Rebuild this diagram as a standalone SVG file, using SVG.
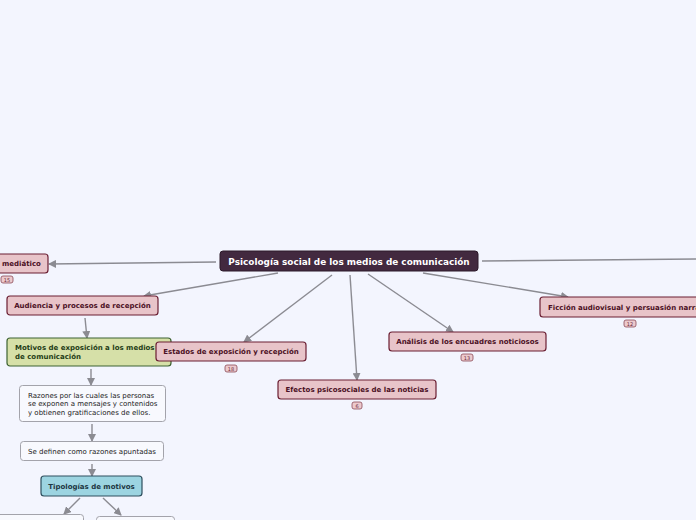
<svg xmlns="http://www.w3.org/2000/svg" width="696" height="520" viewBox="0 0 696 520">
<defs>
<marker id="ah" markerWidth="8" markerHeight="8" refX="7" refY="4" orient="auto" markerUnits="userSpaceOnUse">
<path d="M0,0 L8,4 L0,8 Z" fill="#8b8b92"/>
</marker>
<style>
.bg{fill:#f3f5fe}
.c{stroke:#8b8b92;stroke-width:1.4;fill:none}
.ca{stroke:#8b8b92;stroke-width:1.4;fill:none;marker-end:url(#ah)}
.pk{fill:#e8c4c9;stroke:#6b1f33;stroke-width:1.2}
.pt{font-family:"DejaVu Sans",Verdana,sans-serif;font-weight:bold;font-size:7px;fill:#4b1024}
.ctr{fill:#42293f;stroke:#2c1a2a;stroke-width:1}
.ct{font-family:"DejaVu Sans",Verdana,sans-serif;font-weight:bold;font-size:8.9px;fill:#ffffff}
.bd{fill:#ecc9cd;stroke:#8a4a57;stroke-width:0.8}
.bt{font-family:"DejaVu Sans",Verdana,sans-serif;font-size:5px;fill:#6b2a3a}
.gr{fill:#d6e0a8;stroke:#3d6232;stroke-width:1.2}
.gt{font-family:"DejaVu Sans",Verdana,sans-serif;font-weight:bold;font-size:7px;fill:#1f3d17}
.wh{fill:#f8f9fe;stroke:#a3a3ab;stroke-width:1}
.wt{font-family:"DejaVu Sans",Verdana,sans-serif;font-size:7px;fill:#222222}
.bl{fill:#9cd4e1;stroke:#2e4f5e;stroke-width:1.2}
.blt{font-family:"DejaVu Sans",Verdana,sans-serif;font-weight:bold;font-size:7px;fill:#1d3642}
</style>
</defs>
<rect class="bg" x="0" y="0" width="696" height="520"/>

<g id="connectors">
<line class="ca" x1="216" y1="262" x2="49" y2="264"/>
<line class="c" x1="482" y1="261" x2="696" y2="259"/>
<line class="ca" x1="278" y1="273" x2="144" y2="296"/>
<line class="ca" x1="332" y1="275" x2="244" y2="342"/>
<line class="ca" x1="350" y1="275" x2="357" y2="380"/>
<line class="ca" x1="368" y1="274" x2="453" y2="332"/>
<line class="ca" x1="423" y1="273" x2="568" y2="297"/>
<line class="ca" x1="85" y1="318" x2="87" y2="338"/>
<line class="ca" x1="91" y1="369" x2="91" y2="385"/>
<line class="ca" x1="92" y1="424" x2="92" y2="441"/>
<line class="ca" x1="92" y1="464" x2="92" y2="476"/>
<line class="ca" x1="80" y1="498" x2="64" y2="514"/>
<line class="ca" x1="103" y1="498" x2="121" y2="515"/>
</g>

<g id="central">
<rect class="ctr" x="220" y="251" width="258" height="20" rx="3"/>
<text class="ct" x="349" y="264.5" text-anchor="middle">Psicología social de los medios de comunicación</text>
</g>

<g id="n-mediatico">
<rect class="pk" x="-40" y="254" width="88" height="19" rx="3"/>
<text class="pt" x="2" y="266">mediático</text>
<rect class="bd" x="1" y="276" width="12" height="7" rx="2"/>
<text class="bt" x="7" y="281.6" text-anchor="middle">15</text>
</g>

<g id="n-audiencia">
<rect class="pk" x="7" y="296" width="151" height="19" rx="3"/>
<text class="pt" x="82.5" y="308" text-anchor="middle">Audiencia y procesos de recepción</text>
</g>

<g id="n-motivos">
<rect class="gr" x="7" y="338" width="164" height="28" rx="3"/>
<text class="gt" x="15" y="350">Motivos de exposición a los medios</text>
<text class="gt" x="15" y="359">de comunicación</text>
</g>

<g id="n-estados">
<rect class="pk" x="156" y="342" width="150" height="19" rx="3"/>
<text class="pt" x="231" y="354" text-anchor="middle">Estados de exposición y recepción</text>
<rect class="bd" x="225" y="365" width="12" height="7" rx="2"/>
<text class="bt" x="231" y="370.6" text-anchor="middle">18</text>
</g>

<g id="n-efectos">
<rect class="pk" x="278" y="380" width="158" height="19" rx="3"/>
<text class="pt" x="357" y="392" text-anchor="middle">Efectos psicosociales de las noticias</text>
<rect class="bd" x="352" y="402" width="10" height="7" rx="2"/>
<text class="bt" x="357" y="407.6" text-anchor="middle">6</text>
</g>

<g id="n-analisis">
<rect class="pk" x="389" y="332" width="157" height="19" rx="3"/>
<text class="pt" x="467.5" y="344" text-anchor="middle">Análisis de los encuadres noticiosos</text>
<rect class="bd" x="461" y="354" width="12" height="7" rx="2"/>
<text class="bt" x="467" y="359.6" text-anchor="middle">13</text>
</g>

<g id="n-ficcion">
<rect class="pk" x="540" y="297" width="170" height="20" rx="3"/>
<text class="pt" x="548" y="310">Ficción audiovisual y persuasión narrativa</text>
<rect class="bd" x="624" y="320" width="12" height="7" rx="2"/>
<text class="bt" x="630" y="325.6" text-anchor="middle">12</text>
</g>

<g id="n-razones">
<rect class="wh" x="19.5" y="385.5" width="146" height="36" rx="3"/>
<text class="wt" x="28" y="397.5">Razones por las cuales las personas</text>
<text class="wt" x="28" y="406">se exponen a mensajes y contenidos</text>
<text class="wt" x="28" y="414.5">y obtienen gratificaciones de ellos.</text>
</g>

<g id="n-definen">
<rect class="wh" x="20.5" y="441.5" width="143" height="19" rx="3"/>
<text class="wt" x="92" y="453.5" text-anchor="middle">Se definen como razones apuntadas</text>
</g>

<g id="n-tipologias">
<rect class="bl" x="41" y="476" width="101" height="20" rx="3"/>
<text class="blt" x="91.5" y="488.5" text-anchor="middle">Tipologías de motivos</text>
</g>

<g id="n-tipo1">
<rect class="wh" x="-20.5" y="514.5" width="104" height="20" rx="3"/>
</g>
<g id="n-tipo2">
<rect class="wh" x="96.5" y="516.5" width="78" height="20" rx="3"/>
</g>
</svg>
